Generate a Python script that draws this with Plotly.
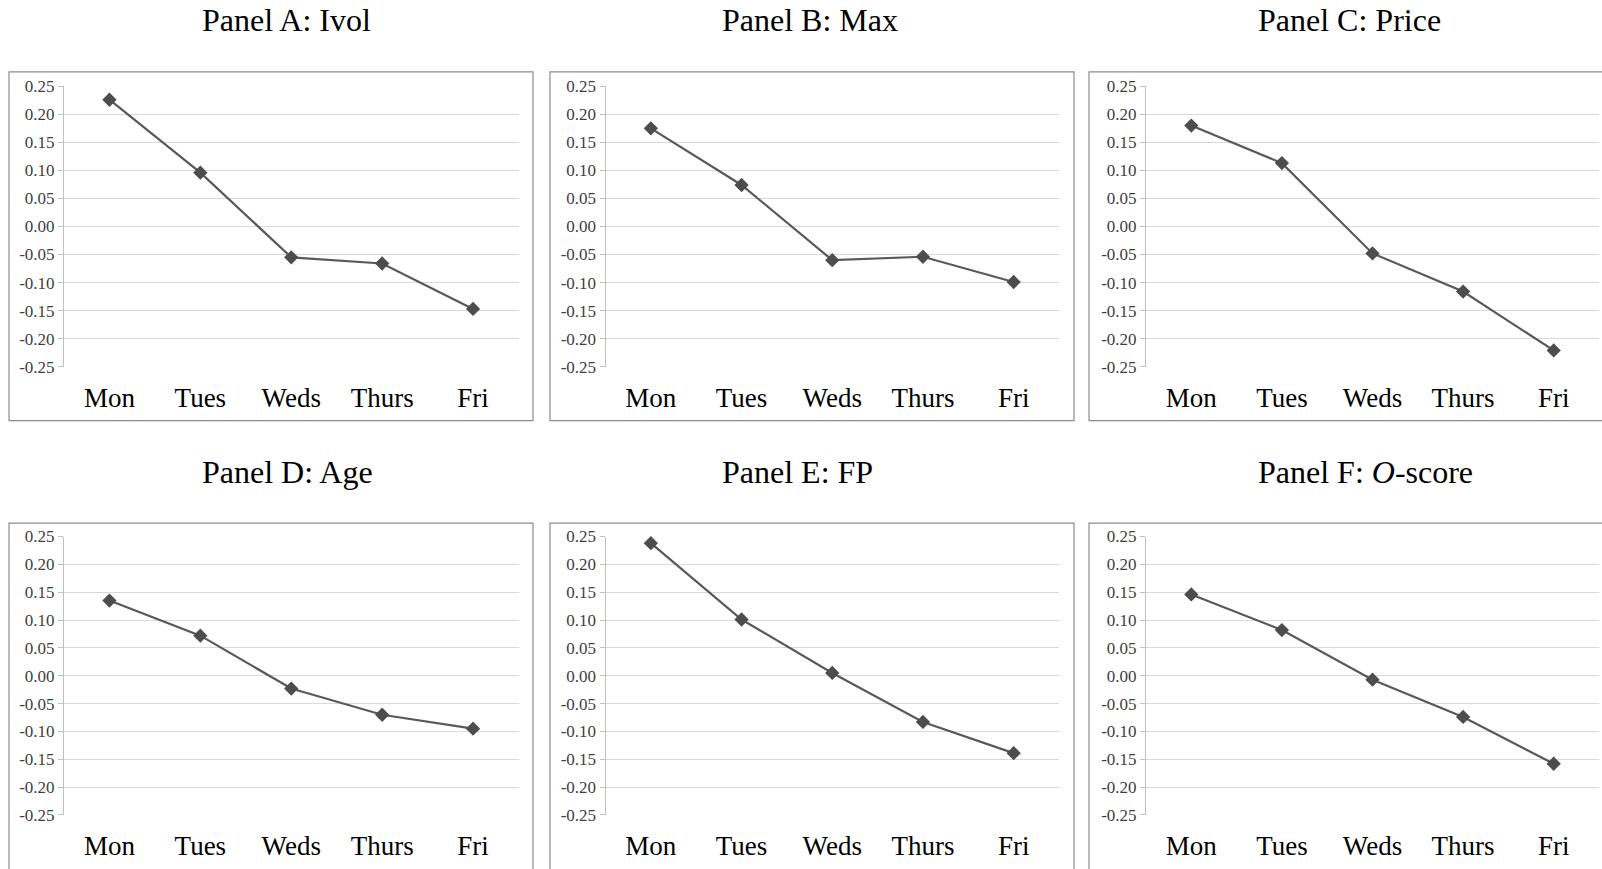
import plotly.graph_objects as go

# Day-of-week categories and panel values
days = ["Mon", "Tues", "Weds", "Thurs", "Fri"]

ivol = [0.226, 0.096, -0.055, -0.066, -0.147]
max_ret = [0.175, 0.074, -0.060, -0.054, -0.099]
price = [0.180, 0.113, -0.048, -0.116, -0.221]
age = [0.135, 0.072, -0.023, -0.070, -0.095]
fp = [0.238, 0.101, 0.005, -0.083, -0.139]
oscore = [0.146, 0.082, -0.007, -0.074, -0.158]

panel_titles = ["Panel A: Ivol", "Panel B: Max", "Panel C: Price",
                "Panel D: Age", "Panel E: FP", "Panel F: <i>O</i>-score"]
panel_values = [ivol, max_ret, price, age, fp, oscore]

y_ticks = [0.25, 0.20, 0.15, 0.10, 0.05, 0.00, -0.05, -0.10, -0.15, -0.20, -0.25]
y_tick_text = ["0.25", "0.20", "0.15", "0.10", "0.05", "0.00",
               "-0.05", "-0.10", "-0.15", "-0.20", "-0.25"]

W, H = 1602, 869
FONT = "Liberation Serif, Times New Roman, serif"
LINE_COLOR = "#595959"
GRID = "#d9d9d9"
AXIS = "#bfbfbf"
FRAME = "#8c8c8c"

# pixel layout of each panel: plot x-range, plot y-range, frame box, title anchor
col_plot_x = [(64, 518.5), (605.5, 1059), (1146, 1599)]
col_box_x = [(9, 533), (550, 1074), (1089, 1640)]
col_title_x = [200, 720, 1256]
row_plot_y = [(79, 365.7), (539.3, 824)]
row_box_y = [(64.3, 420.8), (525.6, 900)]
row_title_y = [11.5, 473]


def px(x):
    return x / W


def py(y):
    return 1 - y / H


fig = go.Figure()
layout = dict(
    width=W, height=H,
    margin=dict(l=0, r=0, t=0, b=0),
    paper_bgcolor="white", plot_bgcolor="white",
    showlegend=False,
    font=dict(family=FONT, color="black"),
    shapes=[], annotations=[],
)

n_idx = list(range(len(days)))
for i, vals in enumerate(panel_values):
    r, c = divmod(i, 3)
    k = i + 1
    sfx = "" if k == 1 else str(k)
    ov = i + 7  # overlay axis carrying the zero line and category ticks

    x0, x1 = col_plot_x[c]
    ytop, ybot = row_plot_y[r]
    xdom = [px(x0), px(x1)]
    ydom = [py(ybot), py(ytop)]

    fig.add_trace(go.Scatter(
        x=n_idx, y=vals, mode="lines+markers",
        line=dict(color=LINE_COLOR, width=2.2),
        marker=dict(symbol="diamond", size=11, color="#4d4d4d"),
        xaxis="x" + sfx, yaxis="y" + sfx, cliponaxis=False,
    ))

    layout["xaxis" + sfx] = dict(
        domain=xdom, anchor="y" + sfx, range=[-0.5, len(days) - 0.5],
        tickmode="array", tickvals=n_idx, ticktext=days,
        showgrid=False, zeroline=False, showline=False, ticks="",
        ticklabelstandoff=12,
        tickfont=dict(family=FONT, size=27, color="black"),
    )
    layout["yaxis" + sfx] = dict(
        domain=ydom, anchor="x" + sfx, range=[-0.25, 0.25],
        tickmode="array", tickvals=y_ticks, ticktext=y_tick_text,
        showgrid=True, gridcolor=GRID, gridwidth=1,
        zeroline=False, showline=True, linecolor=AXIS, linewidth=1,
        ticks="outside", ticklen=5, tickcolor=AXIS,
        tickfont=dict(family=FONT, size=17, color="#404040"),
    )
    layout["xaxis" + str(ov)] = dict(
        overlaying="x" + sfx, anchor="free",
        position=(ydom[0] + ydom[1]) / 2,
        range=[-0.5, len(days) - 0.5],
        tickmode="array", tickvals=[j + 0.5 for j in n_idx],
        showticklabels=False, showgrid=False, zeroline=False,
        showline=True, linecolor=AXIS, linewidth=1,
        ticks="outside", ticklen=7, tickcolor=AXIS,
    )

    bx0, bx1 = col_box_x[c]
    by0, by1 = row_box_y[r]
    layout["shapes"].append(dict(
        type="rect", xref="paper", yref="paper",
        x0=px(bx0), x1=px(bx1), y0=py(by1), y1=py(by0),
        line=dict(color=FRAME, width=1.2), fillcolor="rgba(0,0,0,0)", layer="below",
    ))
    layout["annotations"].append(dict(
        text=panel_titles[i], xref="paper", yref="paper",
        x=px(col_title_x[c]), y=py(row_title_y[r]),
        xanchor="left", yanchor="middle", showarrow=False,
        font=dict(family=FONT, size=32, color="black"),
    ))

fig.update_layout(**layout)
fig.write_html("out.html")
